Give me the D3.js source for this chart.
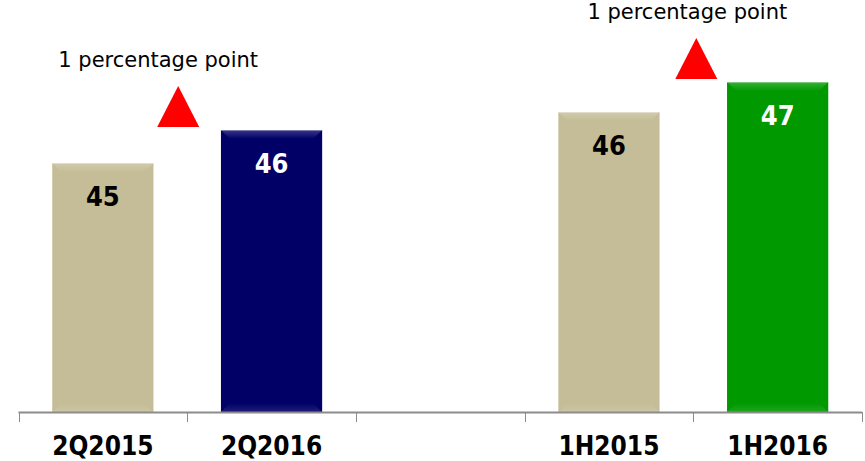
<!DOCTYPE html>
<html>
<head>
<meta charset="utf-8">
<script src="https://cdn.jsdelivr.net/npm/d3@7/dist/d3.min.js"></script>
<style>
  html, body { margin: 0; padding: 0; background: #ffffff; }
  svg { display: block; }
  text { font-family: "DejaVu Sans Condensed", "DejaVu Sans", sans-serif; font-stretch: condensed; }
  text.note { font-family: "DejaVu Sans", sans-serif; font-stretch: normal; }
</style>
</head>
<body>
<svg id="chart" width="865" height="461"></svg>
<script>
// Axis slots: two quarter bars, an empty spacer slot, two half-year bars
const slots = ["2Q2015", "2Q2016", "", "1H2015", "1H2016"];
const categories = ["2Q2015", "2Q2016", "1H2015", "1H2016"];
const values = [44.6, 45.7, 46.3, 47.3];
const barColors = ["#c4bd97", "#000066", "#c4bd97", "#009900"];
const labelColors = ["#000000", "#ffffff", "#000000", "#ffffff"];
// Increase notes: each spans a pair of bars
const notes = [
  { from: "2Q2015", to: "2Q2016", text: "1 percentage point" },
  { from: "1H2015", to: "1H2016", text: "1 percentage point" }
];

const svg = d3.select("#chart");
const baseY = 412;

const x = d3.scaleBand()
  .domain(slots)
  .range([18.5, 862])
  .paddingInner(0.4)
  .paddingOuter(0.2);

const y = d3.scaleLinear()
  .domain([36.3, 47.3])
  .range([baseY, 82]);

const fmt = d3.format(".0f");
const data = categories.map((c, i) => ({ cat: c, v: values[i], color: barColors[i], lc: labelColors[i] }));

// Bevel gradients
const defs = svg.append("defs");
const topG = defs.append("linearGradient").attr("id", "bevelTop").attr("x1", 0).attr("y1", 0).attr("x2", 0).attr("y2", 1);
topG.append("stop").attr("offset", "0%").attr("stop-color", "#fff").attr("stop-opacity", 0.22);
topG.append("stop").attr("offset", "100%").attr("stop-color", "#fff").attr("stop-opacity", 0.0);
const botG = defs.append("linearGradient").attr("id", "bevelBot").attr("x1", 0).attr("y1", 1).attr("x2", 0).attr("y2", 0);
botG.append("stop").attr("offset", "0%").attr("stop-color", "#fff").attr("stop-opacity", 0.12);
botG.append("stop").attr("offset", "100%").attr("stop-color", "#fff").attr("stop-opacity", 0.0);

const bars = svg.append("g").selectAll("g.bar").data(data).join("g").attr("class", "bar");
const bw = x.bandwidth();
const bev = 9;

bars.append("rect")
  .attr("x", d => x(d.cat))
  .attr("y", d => y(d.v))
  .attr("width", bw)
  .attr("height", d => baseY - y(d.v))
  .attr("fill", d => d.color);

// top bevel facet
bars.append("path")
  .attr("d", d => {
    const x0 = x(d.cat), y0 = y(d.v);
    return `M${x0},${y0}H${x0 + bw}L${x0 + bw - bev},${y0 + bev}H${x0 + bev}Z`;
  })
  .attr("fill", "url(#bevelTop)");

// bottom bevel facet
bars.append("path")
  .attr("d", d => {
    const x0 = x(d.cat);
    return `M${x0},${baseY}H${x0 + bw}L${x0 + bw - bev},${baseY - bev}H${x0 + bev}Z`;
  })
  .attr("fill", "url(#bevelBot)");

// thin light edge along the top
bars.append("line")
  .attr("x1", d => x(d.cat)).attr("x2", d => x(d.cat) + bw)
  .attr("y1", d => y(d.v) + 0.5).attr("y2", d => y(d.v) + 0.5)
  .attr("stroke", "#ffffff").attr("stroke-opacity", 0.35);

// value labels
bars.append("text")
  .attr("x", d => x(d.cat) + bw / 2)
  .attr("y", d => y(d.v) + 43)
  .attr("text-anchor", "middle")
  .attr("font-size", 27)
  .attr("font-weight", "bold")
  .attr("fill", d => d.lc)
  .text(d => fmt(d.v));

// category axis
const axis = svg.append("g");
axis.append("line")
  .attr("x1", x.range()[0]).attr("x2", x.range()[1])
  .attr("y1", baseY + 0.5).attr("y2", baseY + 0.5)
  .attr("stroke", "#8c8c8c").attr("stroke-width", 2);

const step = x.step();
const bounds = d3.range(slots.length + 1).map(i => x.range()[0] + i * step);
axis.selectAll("line.tick").data(bounds).join("line")
  .attr("class", "tick")
  .attr("x1", d => Math.round(d) + 0.5).attr("x2", d => Math.round(d) + 0.5)
  .attr("y1", baseY).attr("y2", baseY + 10)
  .attr("stroke", "#8c8c8c").attr("stroke-width", 1);

axis.selectAll("text").data(categories).join("text")
  .attr("x", d => x(d) + bw / 2)
  .attr("y", 455)
  .attr("text-anchor", "middle")
  .attr("font-size", 26)
  .attr("font-weight", "bold")
  .attr("fill", "#000")
  .text(d => d);

// increase annotations: red triangle above the taller bar of each pair
const valueOf = c => values[categories.indexOf(c)];
const ann = svg.append("g").selectAll("g").data(notes).join("g");
const triW = 42, triH = 41;
const triShift = [-9, 3];
const textShift = [-20, -9];
ann.each(function (d, i) {
  const g = d3.select(this);
  const cx = x(d.from) + bw + (x(d.to) - x(d.from) - bw) / 2 + triShift[i];
  const base = y(Math.max(valueOf(d.from), valueOf(d.to))) - 3;
  g.append("path")
    .attr("d", `M${cx},${base - triH}L${cx + triW / 2},${base}L${cx - triW / 2},${base}Z`)
    .attr("fill", "#ff0000");
  g.append("text")
    .attr("class", "note")
    .attr("x", cx + textShift[i])
    .attr("y", base - triH - 19)
    .attr("text-anchor", "middle")
    .attr("font-size", 21)
    .attr("fill", "#000")
    .text(d.text);
});
</script>
</body>
</html>
